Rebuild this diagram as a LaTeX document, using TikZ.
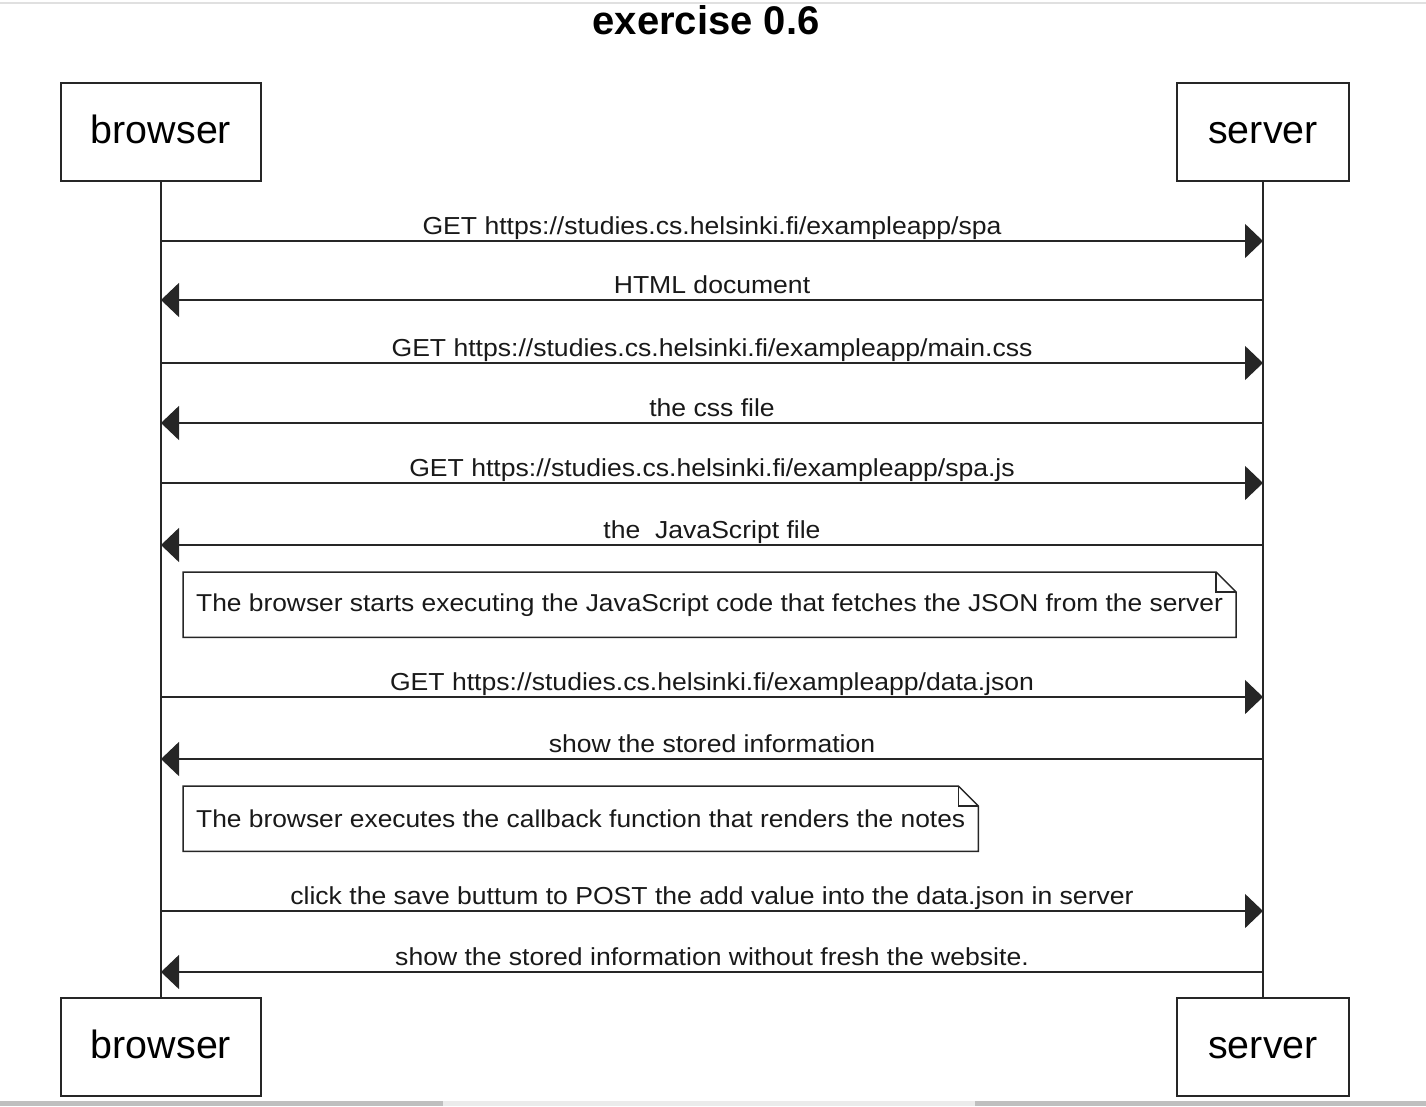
\documentclass[tikz,border=0pt]{standalone}
\usepackage{fontspec}
\setmainfont{Liberation Sans}
\newfontfamily\msgfont[FakeStretch=1.08]{Liberation Sans}
\usetikzlibrary{calc, positioning, arrows.meta}
\tikzset{
    actor/.style={rectangle, draw=black!85, line width=1.5pt, fill=white, align=center, minimum height=98pt, inner sep=0pt, text height=22pt, text depth=0pt, font=\fontsize{39.4}{44}\selectfont},
    lifeline/.style={draw=black!85, line width=1.5pt},
    msg/.style={-{Triangle[length=18pt, width=34pt]}, draw=black!85, line width=1.5pt},
    lbl/.style={font=\msgfont\fontsize{24.6}{30}\selectfont, text=black!90, anchor=base, inner sep=0pt},
    note/.style={rectangle, anchor=north west, minimum height=65pt, inner xsep=13pt, inner ysep=0pt, font=\msgfont\fontsize{24.4}{30}\selectfont, text=black!90},
    noteline/.style={draw=black!85, line width=1.5pt, line join=miter},
    title/.style={font=\bfseries\fontsize{40}{46}\selectfont, anchor=base}
}

\begin{document}
\begin{tikzpicture}[x=1pt, y=-1pt]
    \useasboundingbox (0,0) rectangle (1426,1106);
    % screen edges
    \fill[black!12] (0,2) rectangle (1426,4);
    \fill[black!25] (0,1101) rectangle (1426,1106);
    \fill[black!8] (443,1101) rectangle (975,1106);

    % Title
    \node[title] (title) at (706,34) {exercise 0.6};

    % Participants
    \node[actor, minimum width=200pt] (browserTop) at (161,132) {browser};
    \node[actor, minimum width=172pt] (serverTop) at (1263,132) {server};
    \node[actor, minimum width=200pt] (browserBot) at (161,1047) {browser};
    \node[actor, minimum width=172pt] (serverBot) at (1263,1047) {server};

    % Lifelines
    \draw[lifeline] (browserTop.south) -- (browserBot.north);
    \draw[lifeline] (serverTop.south) -- (serverBot.north);

    % Messages
    \foreach \y/\a/\b/\txt in {
        241/browserTop/serverTop/{GET https://studies.cs.helsinki.fi/exampleapp/spa},
        300/serverTop/browserTop/{HTML document},
        363/browserTop/serverTop/{GET https://studies.cs.helsinki.fi/exampleapp/main.css},
        423/serverTop/browserTop/{the css file},
        483/browserTop/serverTop/{GET https://studies.cs.helsinki.fi/exampleapp/spa.js},
        545/serverTop/browserTop/{the\ \ JavaScript file},
        697/browserTop/serverTop/{GET https://studies.cs.helsinki.fi/exampleapp/data.json},
        759/serverTop/browserTop/{show the stored information},
        911/browserTop/serverTop/{click the save buttum to POST the add value into the data.json in server},
        972/serverTop/browserTop/{show the stored information without fresh the website.}}
    {
        \draw[msg] (\a.south |- 0,\y) -- (\b.south |- 0,\y)
            node[lbl, midway, yshift=7pt] {\txt};
    }

    % Notes
    \node[note] (noteFetch) at (183,572) {The browser starts executing the JavaScript code that fetches the JSON from the server};
    \node[note] (noteRender) at (183,786) {The browser executes the callback function that renders the notes};
    \foreach \n in {noteFetch, noteRender}
    {
        \draw[noteline] (\n.south west) -- (\n.north west) -- ($(\n.north east)+(-20pt,0pt)$)
            -- ($(\n.north east)+(0pt,-20pt)$) -- (\n.south east) -- cycle;
        \draw[noteline] ($(\n.north east)+(-20pt,0pt)$) |- ($(\n.north east)+(0pt,-20pt)$);
    }
\end{tikzpicture}
\end{document}
